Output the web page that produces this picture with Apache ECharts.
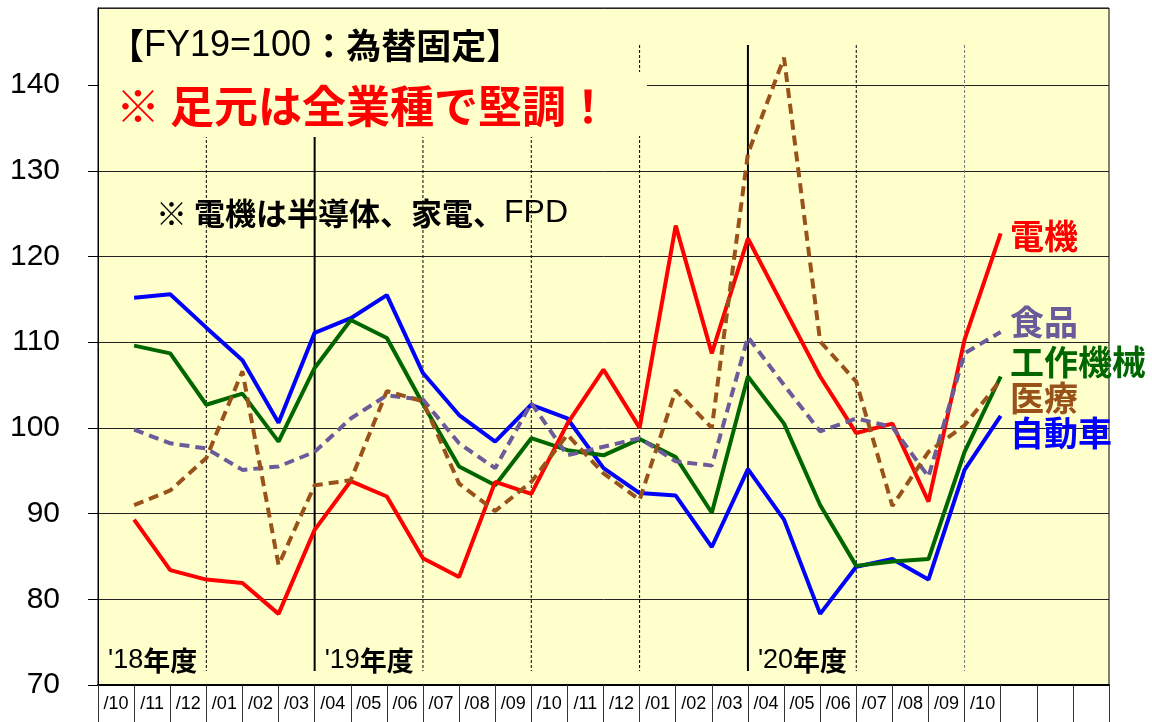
<!DOCTYPE html>
<html>
<head>
<meta charset="utf-8">
<script src="https://cdn.jsdelivr.net/npm/echarts@6/dist/echarts.min.js"></script>
</head>
<body style="margin:0">
<div id="main" style="width:1152px;height:722px"></div>
<script>
var monthLabels = ['/10','/11','/12','/01','/02','/03','/04','/05','/06','/07','/08','/09','/10','/11','/12','/01','/02','/03','/04','/05','/06','/07','/08','/09','/10','','',''];
var denki   = [89.3,83.4,82.3,81.9,78.3,88.1,93.8,92.0,84.8,82.6,93.7,92.3,100.5,106.8,100.0,123.6,108.7,122.1,114.0,106.0,99.4,100.5,91.4,110.3,122.7];
var shokuhin= [99.8,98.2,97.6,95.1,95.5,97.2,101.1,103.8,103.3,98.2,95.3,102.9,96.8,97.8,98.8,96.1,95.6,110.6,105.0,99.6,101.1,100.1,94.3,108.7,111.2];
var kosaku  = [109.6,108.7,102.7,104.0,98.4,107.0,112.6,110.5,102.8,95.5,93.3,98.8,97.4,96.8,98.7,96.6,90.1,106.0,100.5,91.0,83.9,84.4,84.7,97.2,106.0];
var iryo    = [91.0,92.7,96.5,106.6,84.0,93.3,93.9,104.3,103.1,93.5,90.3,93.7,99.2,94.7,91.6,104.4,100.0,132.0,143.2,110.1,105.4,90.9,97.2,100.3,105.6];
var jidosha = [115.2,115.6,111.7,107.9,100.6,111.1,112.8,115.5,106.4,101.5,98.4,102.7,101.1,95.3,92.4,92.1,86.1,95.2,89.3,78.3,83.8,84.7,82.3,95.1,101.4];
var fyLabels = ["'18", "'19", "'20"];

// 線データは区切り位置に置く（先頭1つ空け）
function pad(a){ return [null].concat(a, [null,null,null]); }
var lineCats = [];
for (var i = 0; i < 29; i++) lineCats.push(String(i));

var chart = echarts.init(document.getElementById('main'));
var L = 98, R = 1109, T = 8, B = 685;
var step = (R - L) / 28;
var ymin = 70, ymax = 149;

var vlines = [];
[3,6,9,12,15,18,21,24].forEach(function(k){
  var solid = (k === 6 || k === 18);
  vlines.push({type:'line', shape:{x1:L+k*step, y1:45, x2:L+k*step, y2:B-14},
    style:{stroke: k === 24 ? '#777' : '#000', lineWidth: solid ? 2 : 1, lineDash: solid ? null : [3,2]}, z:1});
});

function fyText(lbl, k){
  return {type:'text', x:L+k*step+10, y:661, z:5,
    style:{verticalAlign:'middle', rich:{a:{fontSize:27, fontFamily:'Liberation Sans', fill:'#000'}, b:{fontSize:27, fontFamily:'Noto Sans CJK JP', fontWeight:'bold', fill:'#000'}},
      text:'{a|' + lbl + '}{b|年度}'}};
}
function sideLabel(txt, y, col){
  return {type:'text', x:1010, y:y, z:5, style:{text:txt, verticalAlign:'middle', fontSize:34, fontWeight:'bold', fontFamily:'Noto Sans CJK JP', fill:col}};
}

var option = {
  backgroundColor:'#fff',
  animation:false,
  grid:{left:L, right:1152-R, top:T, bottom:722-B, show:true, backgroundColor:'#FFFFCC', borderColor:'#000', borderWidth:1},
  xAxis:[{
    type:'category', data:monthLabels, boundaryGap:true, position:'bottom',
    axisLine:{lineStyle:{color:'#000', width:2}},
    axisTick:{show:true, interval:0, length:40, lineStyle:{color:'#333'}},
    axisLabel:{interval:0, color:'#000', fontSize:18, fontFamily:'Liberation Sans', margin:10},
    splitLine:{show:false}
  },{
    type:'category', data:lineCats, boundaryGap:false, show:false
  }],
  yAxis:{
    type:'value', min:ymin, max:ymax, interval:10,
    axisLine:{show:true, lineStyle:{color:'#000'}},
    axisTick:{show:true, length:10, lineStyle:{color:'#000'}},
    axisLabel:{color:'#000', fontSize:30, fontFamily:'Liberation Sans', margin:38, showMaxLabel:false},
    splitLine:{show:true, lineStyle:{color:'#222', width:1}}
  },
  series:[
    {name:'自動車', type:'line', xAxisIndex:1, data:pad(jidosha), symbol:'none', lineStyle:{color:'#0000FF', width:4}, z:3},
    {name:'工作機械', type:'line', xAxisIndex:1, data:pad(kosaku), symbol:'none', lineStyle:{color:'#006600', width:4}, z:3},
    {name:'電機', type:'line', xAxisIndex:1, data:pad(denki), symbol:'none', lineStyle:{color:'#FF0000', width:4}, z:3},
    {name:'食品', type:'line', xAxisIndex:1, data:pad(shokuhin), symbol:'none', lineStyle:{color:'#6B5B9A', width:4, type:[10,6]}, z:3},
    {name:'医療', type:'line', xAxisIndex:1, data:pad(iryo), symbol:'none', lineStyle:{color:'#99521A', width:4, type:[10,6]}, z:3}
  ],
  graphic: vlines.concat([
    {type:'rect', shape:{x:L+1, y:T+1, width:R-L-2, height:36}, style:{fill:'#FFFFCC'}, z:2},
    {type:'rect', shape:{x:L+1, y:T+1, width:538, height:128}, style:{fill:'#FFFFCC'}, z:2},
    {type:'rect', shape:{x:L+1, y:72, width:548, height:64}, style:{fill:'#FFFFCC'}, z:2},
    {type:'text', x:109, y:46, z:5, style:{verticalAlign:'middle', rich:{a:{fontSize:36, fontFamily:'Liberation Sans', fill:'#000'}, b:{fontSize:35, fontFamily:'Noto Sans CJK JP', fontWeight:'bold', fill:'#000'}},
      text:'{b|【}{a|FY19=100}{b|：為替固定】}'}},
    {type:'text', x:116, y:106, z:5, style:{text:'※ 足元は全業種で堅調！', verticalAlign:'middle', fontSize:44, fontWeight:'bold', fontFamily:'Noto Sans CJK JP', fill:'#FF0000'}},
    {type:'text', x:156, y:213, z:5, style:{verticalAlign:'middle', rich:{a:{fontSize:32, fontFamily:'Liberation Sans', fill:'#000'}, b:{fontSize:31, fontFamily:'Noto Sans CJK JP', fontWeight:'bold', fill:'#000'}},
      text:'{b|※ 電機は半導体、家電、}{a|FPD}'}},
    fyText(fyLabels[0], 0), fyText(fyLabels[1], 6), fyText(fyLabels[2], 18),
    sideLabel('電機', 236, '#FF0000'),
    sideLabel('食品', 322, '#6B5B9A'),
    sideLabel('工作機械', 362, '#006600'),
    sideLabel('医療', 398, '#99521A'),
    sideLabel('自動車', 433, '#0000FF')
  ])
};
chart.setOption(option);
</script>
</body>
</html>
